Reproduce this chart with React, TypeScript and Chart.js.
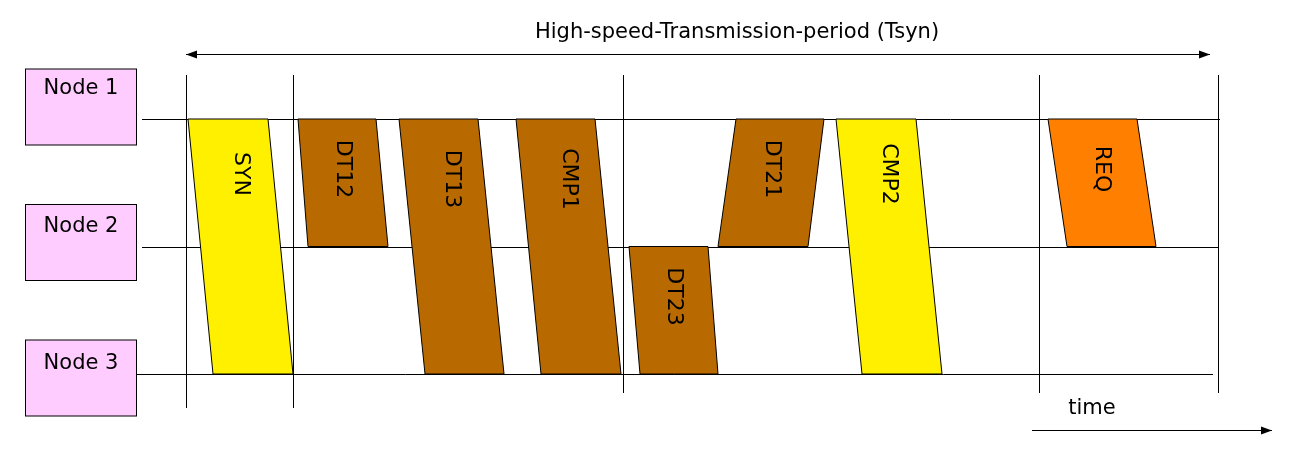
import { useEffect, useRef } from "react";
import { Chart, registerables } from "chart.js";

Chart.register(...registerables);

// time axis units (t = 0 at start of period), node levels: Node 1 = 2, Node 2 = 1, Node 3 = 0
const nodes = ["Node 1", "Node 2", "Node 3"];
const nodeLevels = [2, 1, 0];
const slotBounds = [0, 107, 437, 853, 1032];

const packetNames = ["SYN", "DT12", "DT13", "CMP1", "DT23", "DT21", "CMP2", "REQ"];
const packetFrom = [2, 2, 2, 2, 1, 1, 2, 2];
const packetTo = [0, 1, 0, 0, 0, 2, 0, 1];
// [start, end] at sender line, [start, end] at receiver line
const packetTop = [[2, 82], [112, 190], [213, 292], [330, 409], [443, 522], [532, 622], [650, 730], [862, 951]];
const packetBottom = [[27, 107], [122, 202], [239, 318], [355, 435], [454, 532], [550, 638], [676, 756], [881, 970]];
const packetKind = ["sync", "data", "data", "data", "data", "data", "sync", "req"];
const kindColors: Record<string, string> = { sync: "#FFF000", data: "#B86A00", req: "#FF8000" };

const title = "High-speed-Transmission-period (Tsyn)";

const FONT = "'DejaVu Sans', Verdana, sans-serif";

const diagramPlugin = {
  id: "diagram",
  afterDraw(chart: Chart) {
    const ctx = chart.ctx;
    const x = chart.scales.x;
    const y = chart.scales.y;
    const px = (v: number) => x.getPixelForValue(v);
    const py = (v: number) => y.getPixelForValue(v);
    ctx.save();
    ctx.strokeStyle = "#000";
    ctx.lineWidth = 1;

    // node boxes
    ctx.font = `21px ${FONT}`;
    ctx.textAlign = "center";
    ctx.textBaseline = "middle";
    nodes.forEach((n, i) => {
      const cy = py(nodeLevels[i]) - 12 + i * 8;
      ctx.fillStyle = "#FFCCFF";
      ctx.fillRect(25.5, cy - 38, 111, 76);
      ctx.strokeRect(25.5, cy - 38, 111, 76);
      ctx.fillStyle = "#000";
      ctx.fillText(n, 81, cy - 18 + i * 2);
    });

    // node lines
    const lineEnds = [[142, 1220], [142, 1218], [136, 1213]];
    nodeLevels.forEach((lv, i) => {
      ctx.beginPath();
      ctx.moveTo(lineEnds[i][0], Math.round(py(lv)) + 0.5);
      ctx.lineTo(lineEnds[i][1], Math.round(py(lv)) + 0.5);
      ctx.stroke();
    });

    // slot boundaries
    const tops = 75;
    slotBounds.forEach((t, i) => {
      const bottom = i < 2 ? 408 : 393;
      ctx.beginPath();
      ctx.moveTo(Math.round(px(t)) + 0.5, tops);
      ctx.lineTo(Math.round(px(t)) + 0.5, bottom);
      ctx.stroke();
    });

    // packets
    packetNames.forEach((name, i) => {
      const yt = py(packetFrom[i]);
      const yb = py(packetTo[i]);
      const a = packetTop[i];
      const b = packetBottom[i];
      ctx.beginPath();
      ctx.moveTo(px(a[0]), yt);
      ctx.lineTo(px(a[1]), yt);
      ctx.lineTo(px(b[1]), yb);
      ctx.lineTo(px(b[0]), yb);
      ctx.closePath();
      ctx.fillStyle = kindColors[packetKind[i]];
      ctx.fill();
      ctx.stroke();
      const cx = (px(a[0]) + px(a[1]) + px(b[0]) + px(b[1])) / 4;
      const top = Math.min(yt, yb);
      const cy = top + (i === 0 || i === 6 ? 55 : i === 2 || i === 3 ? 60 : 50);
      ctx.save();
      ctx.translate(cx, cy);
      ctx.rotate(Math.PI / 2);
      ctx.fillStyle = "#000";
      ctx.font = `22px ${FONT}`;
      ctx.fillText(name, 0, 0);
      ctx.restore();
    });

    // period arrow
    const ay = 54.5;
    const ax1 = px(0);
    const ax2 = px(1024);
    ctx.beginPath();
    ctx.moveTo(ax1, ay);
    ctx.lineTo(ax2, ay);
    ctx.stroke();
    ctx.fillStyle = "#000";
    ctx.beginPath();
    ctx.moveTo(ax1, ay); ctx.lineTo(ax1 + 11, ay - 4); ctx.lineTo(ax1 + 11, ay + 4); ctx.closePath(); ctx.fill();
    ctx.beginPath();
    ctx.moveTo(ax2, ay); ctx.lineTo(ax2 - 11, ay - 4); ctx.lineTo(ax2 - 11, ay + 4); ctx.closePath(); ctx.fill();
    ctx.font = `21px ${FONT}`;
    ctx.fillText(title, 737, 33);

    // time arrow
    ctx.beginPath();
    ctx.moveTo(1032, 430.5);
    ctx.lineTo(1272, 430.5);
    ctx.stroke();
    ctx.beginPath();
    ctx.moveTo(1272, 430.5); ctx.lineTo(1261, 426.5); ctx.lineTo(1261, 434.5); ctx.closePath(); ctx.fill();
    ctx.fillText("time", 1092, 409);

    ctx.restore();
  },
};

export default function App() {
  const canvasRef = useRef<HTMLCanvasElement | null>(null);

  useEffect(() => {
    document.body.style.margin = "0";
    if (!canvasRef.current) return;
    const chart = new Chart(canvasRef.current, {
      type: "scatter",
      data: { datasets: [] },
      options: {
        animation: false,
        responsive: true,
        maintainAspectRatio: false,
        layout: { padding: 0 },
        plugins: { legend: { display: false }, tooltip: { enabled: false } },
        scales: {
          x: { type: "linear", min: -186, max: 1103, display: false },
          y: { type: "linear", min: -79 / 127.5, max: 374 / 127.5, display: false },
        },
      },
      plugins: [diagramPlugin],
    });
    return () => chart.destroy();
  }, []);

  return (
    <div style={{ width: 1289, height: 453, background: "#fff" }}>
      <canvas ref={canvasRef} />
    </div>
  );
}
